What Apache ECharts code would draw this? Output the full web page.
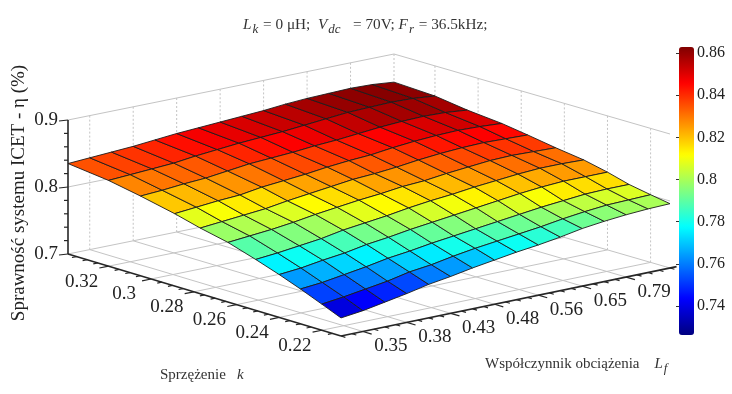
<!DOCTYPE html>
<html>
<head>
<meta charset="utf-8">
<title>Sprawnosc ICET</title>
<script src="https://cdn.jsdelivr.net/npm/echarts@6/dist/echarts.min.js"></script>
<style>
  html, body { margin: 0; padding: 0; background: #fff; }
  #chart { width: 732px; height: 394px; }
</style>
</head>
<body>
<div id="chart"></div>
<script>
// surface samples, rows go from the back-left edge (high k) to the front edge (low k)
var kValues = [0.339, 0.32, 0.305, 0.289, 0.277, 0.264, 0.251, 0.24, 0.23, 0.22, 0.211];
var eta = [
  [0.835, 0.837, 0.839, 0.841, 0.844, 0.847, 0.849, 0.851, 0.853, 0.855, 0.858, 0.860, 0.861, 0.862, 0.861, 0.858],
  [0.828, 0.830, 0.832, 0.834, 0.838, 0.841, 0.844, 0.846, 0.848, 0.851, 0.854, 0.857, 0.858, 0.859, 0.858, 0.855],
  [0.819, 0.821, 0.824, 0.826, 0.830, 0.834, 0.836, 0.838, 0.841, 0.843, 0.846, 0.849, 0.851, 0.852, 0.851, 0.848],
  [0.808, 0.811, 0.814, 0.816, 0.821, 0.824, 0.827, 0.831, 0.834, 0.836, 0.840, 0.843, 0.845, 0.846, 0.845, 0.843],
  [0.798, 0.801, 0.804, 0.807, 0.812, 0.816, 0.820, 0.824, 0.826, 0.829, 0.833, 0.836, 0.838, 0.839, 0.838, 0.837],
  [0.789, 0.792, 0.795, 0.799, 0.804, 0.808, 0.812, 0.815, 0.819, 0.821, 0.825, 0.828, 0.831, 0.832, 0.831, 0.830],
  [0.776, 0.779, 0.783, 0.787, 0.793, 0.797, 0.801, 0.806, 0.810, 0.813, 0.817, 0.820, 0.823, 0.825, 0.825, 0.824],
  [0.764, 0.767, 0.772, 0.776, 0.782, 0.786, 0.791, 0.795, 0.799, 0.803, 0.807, 0.811, 0.814, 0.816, 0.816, 0.816],
  [0.752, 0.755, 0.760, 0.765, 0.771, 0.775, 0.780, 0.784, 0.788, 0.792, 0.796, 0.800, 0.803, 0.806, 0.807, 0.807],
  [0.739, 0.743, 0.748, 0.753, 0.760, 0.764, 0.770, 0.775, 0.779, 0.783, 0.787, 0.792, 0.796, 0.799, 0.800, 0.801],
  [0.727, 0.731, 0.737, 0.743, 0.750, 0.755, 0.761, 0.766, 0.771, 0.775, 0.780, 0.786, 0.790, 0.793, 0.795, 0.796]
];

var kTicks = [0.32, 0.3, 0.28, 0.26, 0.24, 0.22];
var kTickLabels = ["0.32", "0.3", "0.28", "0.26", "0.24", "0.22"];
var lfTickIndex = [1, 3, 5, 7, 9, 11, 13];
var lfTickLabels = ["0.35", "0.38", "0.43", "0.48", "0.56", "0.65", "0.79"];
var zTicks = [0.7, 0.8, 0.9];
var zTickLabels = ["0.7", "0.8", "0.9"];
var barTicks = [0.74, 0.76, 0.78, 0.8, 0.82, 0.84, 0.86];

var FONT = "Liberation Serif";
var kAxisMax = 0.339, kAxisMin = 0.211, lfAxisMax = 15;
var colorMin = 0.7263, colorMax = 0.8628;
var jet = ["#000080", "#0000ff", "#0080ff", "#00ffff", "#80ff80", "#ffff00", "#ff8000", "#ff0000", "#800000"];

// the view: where the four floor corners land, and pixels per unit of eta
var cornerL = [68, 254], cornerF = [341, 336], cornerR = [670, 268], cornerB = [394, 188];
var zScale = 134 / 0.2;

function kToU(k) {
  return (kAxisMax - k) / (kAxisMax - kAxisMin);
}

function project(u, v, z) {
  var x = (1 - u) * (1 - v) * cornerL[0] + u * (1 - v) * cornerF[0] + u * v * cornerR[0] + (1 - u) * v * cornerB[0];
  var y = (1 - u) * (1 - v) * cornerL[1] + u * (1 - v) * cornerF[1] + u * v * cornerR[1] + (1 - u) * v * cornerB[1];
  return [x, y - (z - 0.7) * zScale];
}

function segment(api, a, b, color, width, dash) {
  var p = api.coord(a), q = api.coord(b);
  return {
    type: "line",
    shape: { x1: p[0], y1: p[1], x2: q[0], y2: q[1] },
    style: { stroke: color, lineWidth: width, lineDash: dash || null }
  };
}

function tickText(api, at, dx, dy, str, align) {
  var p = api.coord(at);
  return {
    type: "text",
    x: p[0] + dx,
    y: p[1] + dy,
    style: { text: str, font: "19px '" + FONT + "'", fill: "#222", align: align || "center", verticalAlign: "middle" }
  };
}

function renderBox(params, api) {
  var kids = [];
  var wall = "#c4c4c4", axis = "#262626";
  var i, u, v, z;

  // floor grid
  kTicks.forEach(function (k) {
    u = kToU(k);
    kids.push(segment(api, project(u, 0, 0.7), project(u, 1, 0.7), wall, 1));
    kids.push(segment(api, project(u, 1, 0.7), project(u, 1, 0.9), wall, 1, [2, 2]));
  });
  lfTickIndex.forEach(function (j) {
    v = j / lfAxisMax;
    kids.push(segment(api, project(0, v, 0.7), project(1, v, 0.7), wall, 1));
    kids.push(segment(api, project(0, v, 0.7), project(0, v, 0.9), wall, 1, [2, 2]));
  });
  // wall rules
  zTicks.forEach(function (t) {
    kids.push(segment(api, project(0, 0, t), project(0, 1, t), wall, 1));
    kids.push(segment(api, project(0, 1, t), project(1, 1, t), wall, 1));
  });
  kids.push(segment(api, project(0, 1, 0.7), project(0, 1, 0.9), wall, 1, [2, 2]));

  // z axis
  kids.push(segment(api, project(0, 0, 0.7), project(0, 0, 0.9), axis, 1.6));
  for (i = 0; i <= 10; i++) {
    z = 0.7 + i * 0.02;
    var zp = project(0, 0, z);
    var isMajor = i % 5 === 0;
    kids.push(segment(api, zp, [zp[0] - (isMajor ? 9 : 4), zp[1] + (isMajor ? 1 : 0)], axis, 1.2));
  }
  zTicks.forEach(function (t, n) {
    kids.push(tickText(api, project(0, 0, t), -10, 0, zTickLabels[n], "right"));
  });

  // k axis along the front left
  kids.push(segment(api, project(0, 0, 0.7), project(1, 0, 0.7), axis, 1.6));
  for (i = 0; i < 28; i++) {
    z = 0.335 - i * 0.005;
    u = kToU(z);
    if (u < 0 || u > 1) continue;
    var kMajor = i % 4 === 3;
    kids.push(segment(api, project(u, 0, 0.7), project(u, kMajor ? -0.028 : -0.014, 0.7), axis, 1.2));
  }
  kTicks.forEach(function (k, n) {
    kids.push(tickText(api, project(kToU(k), 0, 0.7), -27, 15.5, kTickLabels[n]));
  });

  // Lf axis along the front right
  kids.push(segment(api, project(1, 0, 0.7), project(1, 1.02, 0.7), axis, 1.6));
  for (i = 0; i <= 30; i++) {
    v = i / 2 / lfAxisMax;
    var lfMajor = i % 4 === 2 && i < 28;
    kids.push(segment(api, project(1, v, 0.7), project(lfMajor ? 1.032 : 1.016, v, 0.7), axis, 1.2));
  }
  lfTickIndex.forEach(function (j, n) {
    kids.push(tickText(api, project(1, j / lfAxisMax, 0.7), 28, 15, lfTickLabels[n]));
  });

  return { type: "group", children: kids };
}

function renderCell(params, api) {
  var r = api.value(0), c = api.value(1);
  var corners = [[r, c], [r, c + 1], [r + 1, c + 1], [r + 1, c]].map(function (rc) {
    return api.coord(project(kToU(kValues[rc[0]]), rc[1] / lfAxisMax, eta[rc[0]][rc[1]]));
  });
  return {
    type: "polygon",
    shape: { points: corners },
    style: { fill: api.visual("color"), stroke: "#1c1c1c", lineWidth: 0.9, lineJoin: "round" }
  };
}

var cells = [];
for (var r = 0; r < kValues.length - 1; r++) {
  for (var c = 0; c < lfAxisMax; c++) {
    cells.push([r, c, eta[r][c]]);
  }
}

var chart = echarts.init(document.getElementById("chart"));

var option = {
  backgroundColor: "#fff",
  animation: false,
  title: {
    left: 243,
    top: 13,
    padding: 0,
    text: "{i|L}{s|k}{n| = 0 μH;  }{i|V}{s|dc}{n|   = 70V; }{i|F}{s|r}{n| = 36.5kHz;}",
    textStyle: {
      fontWeight: "normal",
      rich: {
        n: { fontFamily: FONT, fontSize: 15.25, fontWeight: "normal", color: "#333" },
        i: { fontFamily: FONT, fontSize: 15.25, fontWeight: "normal", fontStyle: "italic", color: "#333" },
        s: { fontFamily: FONT, fontSize: 13, fontWeight: "normal", fontStyle: "italic", color: "#333", padding: [10, 1, 0, 1] }
      }
    }
  },
  grid: [
    { left: 0, right: 0, top: 0, bottom: 0 },
    { left: 679, top: 47, width: 15, height: 288 }
  ],
  xAxis: [
    { type: "value", gridIndex: 0, show: false, min: 0, max: 732 },
    { type: "value", gridIndex: 1, show: false, min: 0, max: 1 }
  ],
  yAxis: [
    { type: "value", gridIndex: 0, show: false, min: 0, max: 394, inverse: true },
    {
      type: "value",
      gridIndex: 1,
      position: "right",
      min: colorMin,
      max: colorMax,
      splitLine: { show: false },
      axisLine: { show: false },
      axisTick: { show: true, inside: true, length: 3, customValues: barTicks, lineStyle: { color: "#333" } },
      axisLabel: {
        margin: 3,
        customValues: barTicks,
        fontFamily: FONT,
        fontSize: 16,
        color: "#222",
        formatter: function (val) { return String(Math.round(val * 100) / 100); }
      }
    }
  ],
  visualMap: {
    type: "continuous",
    seriesIndex: 1,
    dimension: 2,
    min: colorMin,
    max: colorMax,
    left: 679,
    top: 47,
    padding: 0,
    itemWidth: 15,
    itemHeight: 288,
    calculable: false,
    text: null,
    inRange: { color: jet }
  },
  graphic: [
    {
      type: "text",
      x: 19,
      y: 193,
      rotation: Math.PI / 2,
      style: {
        text: "Sprawność systemu ICET - η (%)",
        font: "19px '" + FONT + "'",
        fill: "#222",
        align: "center",
        verticalAlign: "middle"
      }
    },
    {
      type: "text",
      x: 160,
      y: 375,
      style: {
        text: "Sprzężenie   {i|k}",
        font: "15px '" + FONT + "'",
        fill: "#333",
        verticalAlign: "middle",
        rich: { i: { fontFamily: FONT, fontSize: 15, fontStyle: "italic", fill: "#333" } }
      }
    },
    {
      type: "text",
      x: 485,
      y: 364,
      style: {
        text: "Współczynnik obciążenia    {i|L}{s|f}",
        font: "15px '" + FONT + "'",
        fill: "#333",
        verticalAlign: "middle",
        rich: {
          i: { fontFamily: FONT, fontSize: 15, fontStyle: "italic", fill: "#333" },
          s: { fontFamily: FONT, fontSize: 13, fontStyle: "italic", fill: "#333", padding: [10, 0, 0, 1] }
        }
      }
    }
  ],
  series: [
    {
      type: "custom",
      name: "box",
      coordinateSystem: "cartesian2d",
      silent: true,
      clip: false,
      data: [[0, 0]],
      renderItem: renderBox
    },
    {
      type: "custom",
      name: "surface",
      coordinateSystem: "cartesian2d",
      silent: true,
      clip: false,
      encode: { x: 0, y: 1 },
      data: cells,
      renderItem: renderCell
    }
  ]
};

chart.setOption(option);
</script>
</body>
</html>
